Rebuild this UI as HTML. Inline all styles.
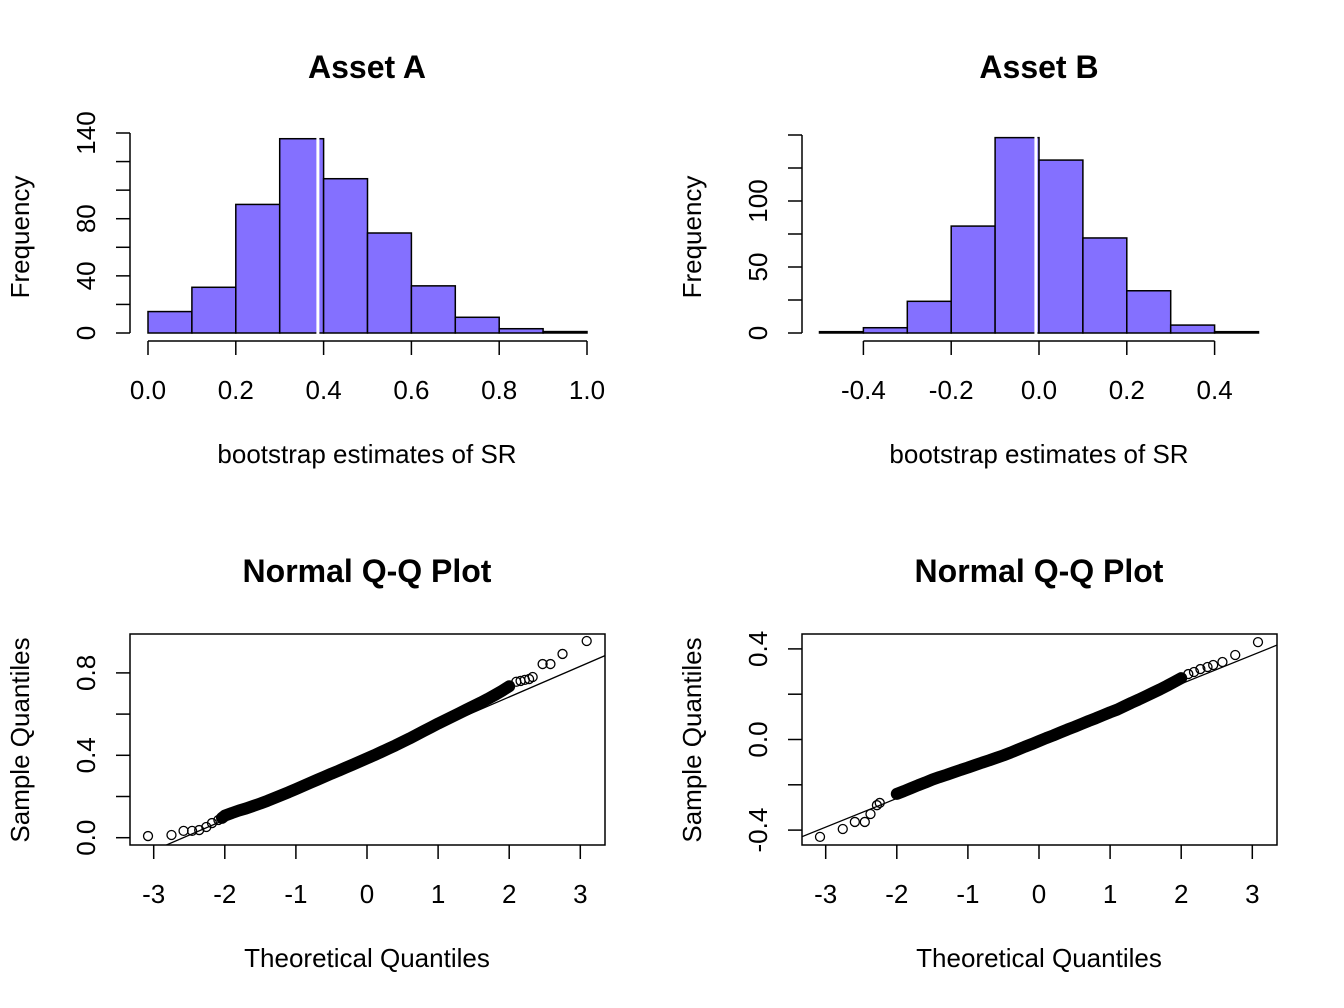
<!DOCTYPE html>
<html><head><meta charset="utf-8"><style>
html,body{margin:0;padding:0;background:#fff;}
svg{display:block;font-family:"Liberation Sans",Arial,sans-serif;}
</style></head><body>
<svg id="c" width="1344" height="1008" xmlns="http://www.w3.org/2000/svg"></svg>
<script>
const histABins = [0,0.1,0.2,0.3,0.4,0.5,0.6,0.7,0.8,0.9,1.0];
const histACounts = [15,32,90,136,108,70,33,11,3,1];
const histAMean = 0.387;
const histAYTicks = [0,20,40,60,80,100,120,140];
const histAYLabels = ["0","","40","","80","","","140"];
const histAXTicks = [0,0.2,0.4,0.6,0.8,1.0];
const histAXLabels = ["0.0","0.2","0.4","0.6","0.8","1.0"];

const histBBins = [-0.5,-0.4,-0.3,-0.2,-0.1,0,0.1,0.2,0.3,0.4,0.5];
const histBCounts = [1,4,24,81,148,131,72,32,6,1];
const histBMean = -0.007;
const histBYTicks = [0,25,50,75,100,125,150];
const histBYLabels = ["0","","50","","100","",""];
const histBXTicks = [-0.4,-0.2,0,0.2,0.4];
const histBXLabels = ["-0.4","-0.2","0.0","0.2","0.4"];

const qqATheo = [-3.08,-2.75,-2.58,-2.46,-2.36,-2.26,-2.18,-2.09,-2.04,
 -2.0,-1.9,-1.8,-1.7,-1.6,-1.5,-1.4,-1.3,-1.2,-1.1,-1.0,-0.9,-0.8,-0.7,-0.6,-0.5,-0.4,-0.3,-0.2,-0.1,0,
 0.1,0.2,0.3,0.4,0.5,0.6,0.7,0.8,0.9,1.0,1.1,1.2,1.3,1.4,1.5,1.6,1.7,1.8,1.9,2.0,
 2.1,2.16,2.22,2.28,2.33,2.47,2.58,2.75,3.09];
const qqASample = [0.008,0.013,0.033,0.033,0.037,0.052,0.071,0.086,0.096,
 0.107,0.12,0.132,0.142,0.154,0.166,0.179,0.193,0.207,0.221,0.236,0.251,0.266,0.281,0.296,0.311,0.325,0.340,0.355,0.370,0.385,
 0.400,0.416,0.432,0.448,0.465,0.482,0.500,0.518,0.536,0.554,0.571,0.588,0.605,0.622,0.639,0.656,0.674,0.693,0.713,0.735,
 0.757,0.761,0.766,0.770,0.780,0.843,0.843,0.892,0.955];
const qqALine = [0.385,0.149];
const qqAYTicks = [0,0.2,0.4,0.6,0.8];
const qqAYLabels = ["0.0","","0.4","","0.8"];

const qqBTheo = [-3.08,-2.76,-2.59,-2.45,-2.37,-2.28,-2.24,
 -2.0,-1.9,-1.8,-1.7,-1.6,-1.5,-1.4,-1.3,-1.2,-1.1,-1.0,-0.9,-0.8,-0.7,-0.6,-0.5,-0.4,-0.3,-0.2,-0.1,0,
 0.1,0.2,0.3,0.4,0.5,0.6,0.7,0.8,0.9,1.0,1.1,1.2,1.3,1.4,1.5,1.6,1.7,1.8,1.9,2.0,
 2.10,2.18,2.27,2.37,2.45,2.58,2.76,3.08];
const qqBSample = [-0.43,-0.395,-0.364,-0.364,-0.329,-0.29,-0.28,
 -0.24,-0.228,-0.215,-0.202,-0.19,-0.177,-0.166,-0.156,-0.145,-0.134,-0.124,-0.113,-0.102,-0.092,-0.081,-0.070,-0.058,-0.045,-0.032,-0.020,-0.007,
 0.006,0.018,0.031,0.044,0.056,0.069,0.082,0.094,0.107,0.12,0.132,0.147,0.162,0.176,0.191,0.206,0.221,0.237,0.254,0.271,
 0.289,0.298,0.311,0.32,0.329,0.342,0.373,0.43];
const qqBLine = [-0.007,0.1266];
const qqBYTicks = [-0.4,-0.2,0,0.2,0.4];
const qqBYLabels = ["-0.4","","0.0","","0.4"];
const qqXTicks = [-3,-2,-1,0,1,2,3];
const qqXLabels = ["-3","-2","-1","0","1","2","3"];

const NS="http://www.w3.org/2000/svg";
const svg=document.getElementById('c');
function mk(tag,attrs,parent){const e=document.createElementNS(NS,tag);for(const k in attrs)e.setAttribute(k,attrs[k]);(parent||svg).appendChild(e);return e;}
function txt(s,x,y,size,opts,parent){const t=mk('text',Object.assign({x:x,y:y,'font-size':size,'text-anchor':'middle',fill:'#000'},opts||{}),parent);t.textContent=s;return t;}
const TS=26, AS=26, HS=32;

function hist(cfg){
  const g=mk('g',{});
  
  
  const sx=v=>cfg.x0+(v-cfg.xv0)*cfg.xs;
  const sy=v=>cfg.y0-v*cfg.ys;
  cfg.counts.forEach((c,i)=>{
    const r=mk('rect',{x:sx(cfg.bins[i]),y:sy(c),width:sx(cfg.bins[i+1])-sx(cfg.bins[i]),height:sy(0)-sy(c),fill:'#8470FF',stroke:'#000','stroke-width':1.5},g);
    
    
  });
  const ml=mk('line',{x1:sx(cfg.mean),x2:sx(cfg.mean),y1:sy(0)+1,y2:cfg.top-4,stroke:'#fff','stroke-width':3},g);
  
  
  const yt=cfg.yTicks;
  const ya=mk('g',{},g);
  
  
  mk('line',{x1:cfg.yAxisX,x2:cfg.yAxisX,y1:sy(yt[0]),y2:sy(yt[yt.length-1]),stroke:'#000','stroke-width':1.5},ya);
  yt.forEach((v,i)=>{
    mk('line',{x1:cfg.yAxisX,x2:cfg.yAxisX-14,y1:sy(v),y2:sy(v),stroke:'#000','stroke-width':1.5},ya);
    if(cfg.yLabels[i]){const lx=cfg.yAxisX-35;txt(cfg.yLabels[i],lx,sy(v),TS,{transform:`rotate(-90 ${lx} ${sy(v)})`},ya);}
  });
  const xa=mk('g',{},g);
  
  
  const xt=cfg.xTicks;
  mk('line',{x1:sx(xt[0]),x2:sx(xt[xt.length-1]),y1:341,y2:341,stroke:'#000','stroke-width':1.5},xa);
  xt.forEach((v,i)=>{
    mk('line',{x1:sx(v),x2:sx(v),y1:341,y2:355,stroke:'#000','stroke-width':1.5},xa);
    txt(cfg.xLabels[i],sx(v),399,TS,{},xa);
  });
  const t=txt(cfg.title,cfg.cx,78,HS,{'font-weight':'bold'});
  
  
  const xl=txt('bootstrap estimates of SR',cfg.cx,463,AS);
  
  
  const yx=cfg.ylabX;
  const yl=txt('Frequency',yx,237,AS,{transform:`rotate(-90 ${yx} 237)`});
  
  
}

hist({name:'histogram-asset-a',bins:histABins,counts:histACounts,mean:histAMean,x0:148,xv0:0,xs:439,y0:333,ys:200/140,top:133,
  yTicks:histAYTicks,yLabels:histAYLabels,xTicks:histAXTicks,xLabels:histAXLabels,yAxisX:130,title:'Asset A',cx:367,ylabX:29});
hist({name:'histogram-asset-b',bins:histBBins,counts:histBCounts,mean:histBMean,x0:1039,xv0:0,xs:439,y0:333,ys:198/150,top:135,
  yTicks:histBYTicks,yLabels:histBYLabels,xTicks:histBXTicks,xLabels:histBXLabels,yAxisX:802,title:'Asset B',cx:1039,ylabX:701});

function qq(cfg){
  const g=mk('g',{});
  
  
  const sx=q=>cfg.xc+q*71.1;
  const sy=v=>cfg.y0-v*cfg.ys;
  const clip='clip-'+cfg.name;
  const cp=mk('clipPath',{id:clip},g);
  mk('rect',{x:cfg.L,y:634,width:cfg.R-cfg.L,height:211},cp);
  const pg=mk('g',{'clip-path':`url(#${clip})`},g);
  const mid=[];cfg.theo.forEach((q,i)=>{if(q>=cfg.bandLo&&q<=cfg.bandHi)mid.push(sx(q)+','+sy(cfg.sample[i]));});
  const band=mk('polyline',{points:mid.join(' '),fill:'none',stroke:'#000','stroke-width':12,'stroke-linecap':'round','stroke-linejoin':'round'},pg);
  
  
  cfg.theo.forEach((q,i)=>{
    const c=mk('circle',{cx:sx(q),cy:sy(cfg.sample[i]),r:4.5,fill:'none',stroke:'#000','stroke-width':1.3},pg);
    
    
  });
  const qa=-4,qb=4;
  const ln=mk('line',{x1:sx(qa),y1:sy(cfg.line[0]+cfg.line[1]*qa),x2:sx(qb),y2:sy(cfg.line[0]+cfg.line[1]*qb),stroke:'#000','stroke-width':1.3},pg);
  
  
  const box=mk('rect',{x:cfg.L,y:634,width:cfg.R-cfg.L,height:211,fill:'none',stroke:'#000','stroke-width':1.5},g);
  
  
  const ya=mk('g',{},g);
  
  
  cfg.yTicks.forEach((v,i)=>{
    mk('line',{x1:cfg.L,x2:cfg.L-14,y1:sy(v),y2:sy(v),stroke:'#000','stroke-width':1.5},ya);
    if(cfg.yLabels[i]){const lx=cfg.L-35;txt(cfg.yLabels[i],lx,sy(v),TS,{transform:`rotate(-90 ${lx} ${sy(v)})`},ya);}
  });
  const xa=mk('g',{},g);
  
  
  qqXTicks.forEach((v,i)=>{
    mk('line',{x1:sx(v),x2:sx(v),y1:845,y2:859,stroke:'#000','stroke-width':1.5},xa);
    txt(qqXLabels[i],sx(v),903,TS,{},xa);
  });
  const t=txt('Normal Q-Q Plot',cfg.xc,582,HS,{'font-weight':'bold'});
  
  
  const xl=txt('Theoretical Quantiles',cfg.xc,967,AS);
  
  
  const yx=cfg.ylabX;
  const yl=txt('Sample Quantiles',yx,740,AS,{transform:`rotate(-90 ${yx} 740)`});
  
  
}
qq({name:'qq-plot-asset-a',theo:qqATheo,sample:qqASample,line:qqALine,xc:367,L:130,R:605,y0:837.7,ys:206,
  yTicks:qqAYTicks,yLabels:qqAYLabels,ylabX:29,bandLo:-2.05,bandHi:2.05});
qq({name:'qq-plot-asset-b',theo:qqBTheo,sample:qqBSample,line:qqBLine,xc:1039,L:802,R:1277,y0:739.5,ys:226.5,
  yTicks:qqBYTicks,yLabels:qqBYLabels,ylabX:701,bandLo:-2.05,bandHi:2.05});
</script>
</body></html>
